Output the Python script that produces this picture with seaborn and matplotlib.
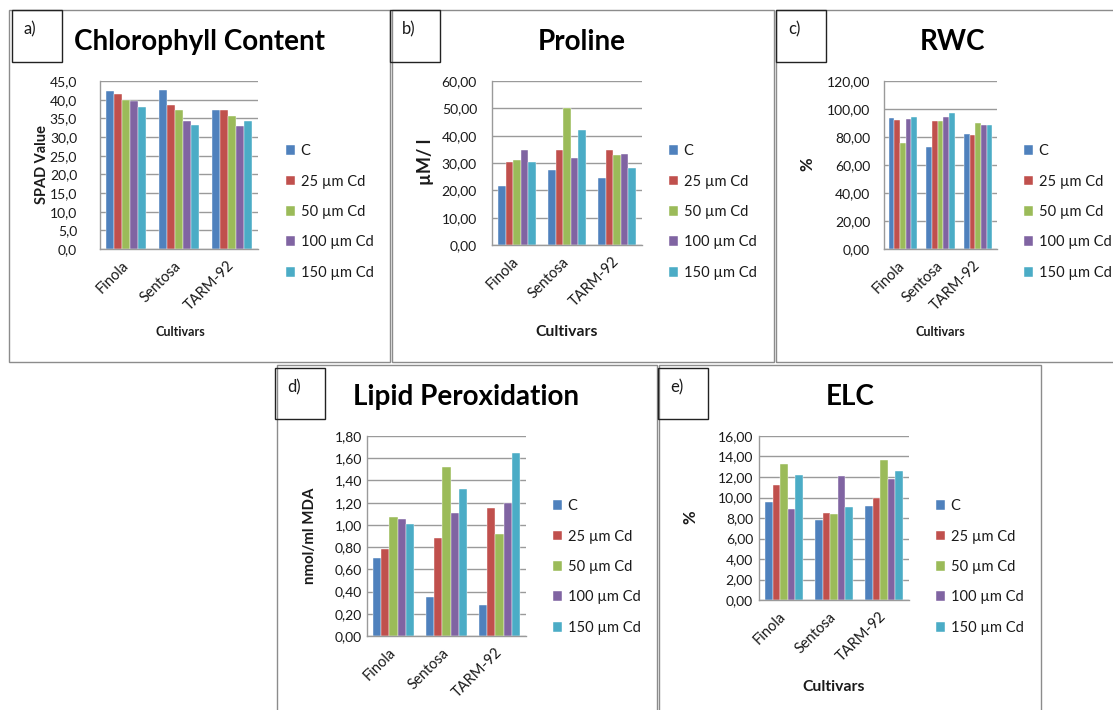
import numpy as np
import pandas as pd
import matplotlib
matplotlib.use("Agg")
import matplotlib.pyplot as plt
import seaborn as sns
from matplotlib.patches import Rectangle
from matplotlib.ticker import FixedLocator

# ---------------- data ----------------
cultivars = ["Finola", "Sentosa", "TARM-92"]
treatments = ["C", "25 µm Cd", "50 µm Cd", "100 µm Cd", "150 µm Cd"]
colors = ["#4F81BD", "#C0504D", "#9BBB59", "#8064A2", "#4BACC6"]

# rows = treatments, columns = cultivars (Finola, Sentosa, TARM-92)
chlorophyll = [[42.2, 42.5, 37.1],
               [41.4, 38.6, 37.3],
               [40.0, 37.3, 35.7],
               [39.6, 34.2, 32.9],
               [38.1, 33.2, 34.2]]
proline = [[21.7, 27.3, 24.4],
           [30.5, 34.6, 34.6],
           [31.1, 50.0, 32.9],
           [34.6, 31.8, 33.3],
           [30.5, 42.0, 28.3]]
rwc = [[93.8, 73.2, 82.2],
       [91.9, 91.2, 81.5],
       [75.8, 91.2, 90.3],
       [92.6, 94.5, 88.4],
       [94.5, 97.4, 88.4]]
lipid = [[0.70, 0.35, 0.28],
         [0.78, 0.88, 1.15],
         [1.07, 1.52, 0.92],
         [1.05, 1.11, 1.20],
         [1.01, 1.32, 1.65]]
elc = [[9.59, 7.84, 9.17],
       [11.20, 8.49, 9.98],
       [13.28, 8.39, 13.67],
       [8.87, 12.05, 11.79],
       [12.18, 9.07, 12.57]]

chl_ticks = [0, 5, 10, 15, 20, 25, 30, 35, 40, 45]
pro_ticks = [0, 10, 20, 30, 40, 50, 60]
rwc_ticks = [0, 20, 40, 60, 80, 100, 120]
lip_ticks = [0, 0.2, 0.4, 0.6, 0.8, 1.0, 1.2, 1.4, 1.6, 1.8]
elc_ticks = [0, 2, 4, 6, 8, 10, 12, 14, 16]

panel_letters = ["a)", "b)", "c)", "d)", "e)"]
titles = ["Chlorophyll Content", "Proline", "RWC", "Lipid Peroxidation", "ELC"]
ylabels = ["SPAD Value", "µM/ l", "%", "nmol/ml MDA", "%"]
xlabel = "Cultivars"

# ---------------- style ----------------
sns.set_style("white")
plt.rcParams["font.family"] = ["Lato", "DejaVu Sans"]

W, H = 1113, 710
fig = plt.figure(figsize=(W / 100, H / 100), dpi=100)
fig.patch.set_facecolor("white")

GRID = "#9A9A9A"
TXT = "#1a1a1a"


def fx(x):
    return x / W


def fy(y):
    return 1 - y / H


def long_df(values):
    rows = []
    for t, vals in zip(treatments, values):
        for c, v in zip(cultivars, vals):
            rows.append({"Cultivar": c, "Treatment": t, "Value": v})
    return pd.DataFrame(rows)


panels = [
    dict(data=chlorophyll, ticks=chl_ticks, dec=1, ypad=14,
         frame=(9, 10, 390, 362), lbox=(12, 10, 62, 62),
         ax=(100, 81, 258, 249), title=(199, 42),
         ylab=(42, 164, 10.5), xlab=(180, 332, 9), leg=(286, 212)),
    dict(data=proline, ticks=pro_ticks, dec=2, ypad=8.3,
         frame=(392, 10, 774, 362), lbox=(390, 10, 440, 62),
         ax=(492, 81, 642, 245), title=(582, 42),
         ylab=(425, 162, 13), xlab=(567, 332, 11.3), leg=(669, 212)),
    dict(data=rwc, ticks=rwc_ticks, dec=2, ypad=7.5,
         frame=(776, 10, 1120, 362), lbox=(776, 10, 826, 62),
         ax=(884, 81, 997, 249), title=(952, 42),
         ylab=(807, 164, 12), xlab=(940, 332, 9), leg=(1024, 212)),
    dict(data=lipid, ticks=lip_ticks, dec=2, ypad=1.2,
         frame=(277, 365, 657, 720), lbox=(275, 368, 325, 419),
         ax=(367, 436, 526, 636), title=(466, 397),
         ylab=(310, 536, 10.8), xlab=None, leg=(553, 567)),
    dict(data=elc, ticks=elc_ticks, dec=2, ypad=1.8,
         frame=(659, 365, 1041, 720), lbox=(658, 368, 708, 419),
         ax=(759, 436, 909, 600), title=(850, 397),
         ylab=(690, 517, 12), xlab=(834, 687, 11.3), leg=(936, 567)),
]

for i, p in enumerate(panels):
    # panel frame
    x0, y0, x1, y1 = p["frame"]
    fig.add_artist(Rectangle((fx(x0), fy(y1)), fx(x1 - x0), (y1 - y0) / H,
                             transform=fig.transFigure, fill=False,
                             edgecolor="#8C8C8C", lw=1.0))
    # letter box
    x0, y0, x1, y1 = p["lbox"]
    fig.add_artist(Rectangle((fx(x0), fy(y1)), fx(x1 - x0), (y1 - y0) / H,
                             transform=fig.transFigure, fill=False,
                             edgecolor="#222222", lw=1.0))
    fig.text(fx(x0 + 12), fy(y0 + 19), panel_letters[i], ha="left", va="center",
             fontsize=12, color=TXT)

    # axes
    ax0, ay0, ax1, ay1 = p["ax"]
    ax = fig.add_axes([fx(ax0), fy(ay1), fx(ax1 - ax0), (ay1 - ay0) / H])
    df = long_df(p["data"])
    sns.barplot(data=df, x="Cultivar", y="Value", hue="Treatment",
                order=cultivars, hue_order=treatments, palette=colors,
                width=0.76, errorbar=None, ax=ax, saturation=1,
                edgecolor="white", linewidth=0.3)
    ticks = p["ticks"]
    ax.set_ylim(0, ticks[-1])
    ax.set_xlim(-0.5, len(cultivars) - 0.5)
    ax.set_yticks(ticks)
    ax.set_yticklabels([f"{t:.{p['dec']}f}".replace(".", ",") for t in ticks],
                       fontsize=10, color=TXT)
    ax.set_xticks(range(len(cultivars)))
    ax.set_xticklabels(cultivars, rotation=45, ha="right", va="center",
                       rotation_mode="anchor", fontsize=10.5, color=TXT)
    ax.xaxis.set_minor_locator(FixedLocator(np.arange(-0.5, len(cultivars), 1.0)))
    ax.tick_params(axis="x", which="major", length=0, pad=10.5)
    ax.tick_params(axis="x", which="minor", length=4.3, width=1, color=GRID,
                   direction="out")
    ax.tick_params(axis="y", which="major", length=2.5, width=1, color=GRID,
                   direction="out", pad=p["ypad"])
    ax.yaxis.grid(True, color=GRID, lw=1)
    ax.set_axisbelow(True)
    for s in ["top", "right"]:
        ax.spines[s].set_visible(False)
    for s in ["left", "bottom"]:
        ax.spines[s].set_color(GRID)
        ax.spines[s].set_linewidth(1)
    ax.set_xlabel("")
    ax.set_ylabel("")
    ax.set_facecolor("white")

    # legend
    handles, labels = ax.get_legend_handles_labels()
    lx, ly = p["leg"]
    ax.legend(handles, labels, loc="center left",
              bbox_to_anchor=(fx(lx), fy(ly)), bbox_transform=fig.transFigure,
              frameon=False, fontsize=10.5, handlelength=0.65, handleheight=0.65,
              handletextpad=0.35, labelspacing=1.13, borderpad=0,
              borderaxespad=0)
    for t in ax.get_legend().get_texts():
        t.set_color(TXT)

    # title
    tx, ty = p["title"]
    fig.text(fx(tx), fy(ty), titles[i], ha="center", va="center",
             fontsize=20, fontweight="bold", color="black")
    # y label
    yx, yy, ys = p["ylab"]
    fig.text(fx(yx), fy(yy), ylabels[i], rotation=90, ha="center", va="center",
             fontsize=ys, fontweight="bold", color=TXT)
    # x label
    if p["xlab"] is not None:
        xx, xy, xs = p["xlab"]
        fig.text(fx(xx), fy(xy), xlabel, ha="center", va="center",
                 fontsize=xs, fontweight="bold", color=TXT)

fig.savefig("out.png", dpi=100, facecolor="white")
